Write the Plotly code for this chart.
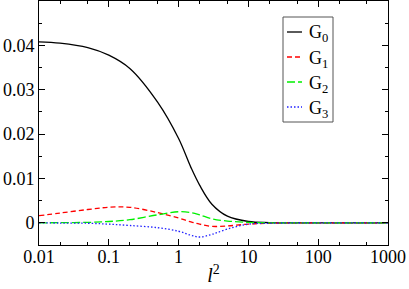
import plotly.graph_objects as go

x_vals = [0.01, 0.02, 0.05, 0.1, 0.2, 0.5, 1, 1.5, 2, 3, 5, 10, 20, 50, 100, 1000]
g0 = [0.0408, 0.0405, 0.0395, 0.0378, 0.0348, 0.0272, 0.0190, 0.0125, 0.0085, 0.0042, 0.0015, 0.0003, 0.00005, 0, 0, 0]
g1 = [0.0016, 0.0022, 0.0030, 0.0035, 0.0035, 0.0023, 0.0011, 0.0002, -0.0003, -0.0008, -0.0007, -0.0003, -0.0001, 0, 0, 0]
g2 = [0.0, 0.00003, 0.0001, 0.0003, 0.0007, 0.0018, 0.0025, 0.0023, 0.0018, 0.0009, 0.0004, 0.0001, 0, 0, 0, 0]
g3 = [0.0, -0.00005, -0.0001, -0.0003, -0.0006, -0.0011, -0.0019, -0.0028, -0.0032, -0.0026, -0.0014, -0.0003, -0.0001, 0, 0, 0]

names = ["G<sub>0</sub>", "G<sub>1</sub>", "G<sub>2</sub>", "G<sub>3</sub>"]
colors = ["#000000", "#ff0000", "#00f000", "#2020ff"]
dashes = ["solid", "5px,3px", "8px,3px", "1.5px,2px"]
series = [g0, g1, g2, g3]

font = "Liberation Serif"

W, H = 409, 289
ML, MR, MT, MB = 39, 21, 1, 44
PW, PH = W - ML - MR, H - MT - MB


def px2paper(px, py):
    return (px - ML) / PW, (H - MB - py) / PH


fig = go.Figure()
for nm, ys, c, d in zip(names, series, colors, dashes):
    fig.add_trace(go.Scatter(x=x_vals, y=ys, name=nm, mode="lines", showlegend=False,
                             line=dict(color=c, dash=d, width=1.3, shape="spline", smoothing=1.0)))

# custom legend box (matches the compact legend of the original)
shapes = []
annotations = []
bx0, by0 = px2paper(283, 122)
bx1, by1 = px2paper(333, 17)
shapes.append(dict(type="rect", xref="paper", yref="paper", x0=bx0, y0=by0, x1=bx1, y1=by1,
                   line=dict(color="#555555", width=1), fillcolor="white", layer="above"))
for i, (nm, c, d) in enumerate(zip(names, colors, dashes)):
    ly = 32 + 25 * i
    lx0, lyp = px2paper(287, ly)
    lx1, _ = px2paper(302, ly)
    shapes.append(dict(type="line", xref="paper", yref="paper", x0=lx0, x1=lx1, y0=lyp, y1=lyp,
                       line=dict(color=c, dash=d, width=1.3), layer="above"))
    tx, ty = px2paper(307, ly + 2)
    annotations.append(dict(text=nm, xref="paper", yref="paper", x=tx, y=ty,
                            xanchor="left", yanchor="middle", showarrow=False,
                            font=dict(family=font, size=18, color="black")))

fig.update_layout(
    width=W, height=H,
    margin=dict(l=ML, r=MR, t=MT, b=MB, autoexpand=False),
    paper_bgcolor="white", plot_bgcolor="white",
    font=dict(family=font, size=18, color="black"),
    showlegend=False,
    shapes=shapes,
    annotations=annotations,
    xaxis=dict(type="log", range=[-2, 3], showgrid=False, zeroline=False, automargin=False,
               showline=True, linecolor="black", linewidth=1, mirror="ticks",
               ticks="inside", ticklen=6, tickcolor="black", ticklabelstandoff=-5,
               tickvals=[0.01, 0.1, 1, 10, 100, 1000],
               ticktext=["0.01", "0.1", "1", "10", "100", "1000"],
               minor=dict(ticks="inside", ticklen=3, tickcolor="black", showgrid=False),
               title=dict(text="<i>l</i><sup>2</sup>", font=dict(family=font, size=20), standoff=2)),
    yaxis=dict(range=[-0.005, 0.05], showgrid=False, zeroline=False, automargin=False,
               showline=True, linecolor="black", linewidth=1, mirror="ticks",
               ticks="inside", ticklen=6, tickcolor="black",
               tickvals=[0, 0.01, 0.02, 0.03, 0.04],
               ticktext=["0", "0.01", "0.02", "0.03", "0.04"],
               minor=dict(ticks="inside", ticklen=3, tickcolor="black", dtick=0.005, showgrid=False)),
)

fig.write_html("out.html", config={"displayModeBar": False},
               post_script="document.body.style.margin='0';document.body.style.padding='0';")
